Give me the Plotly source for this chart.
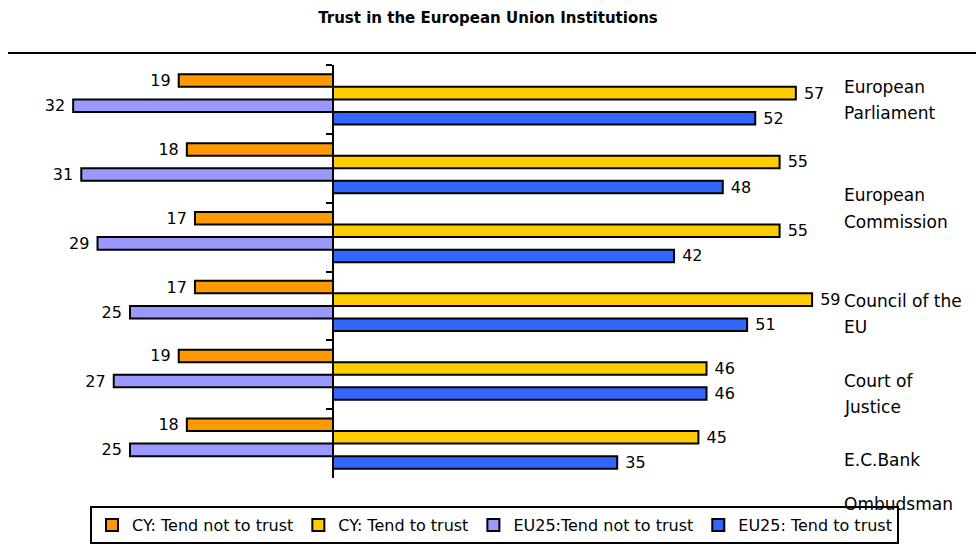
import plotly.graph_objects as go

categories = ["European Parliament", "European Commission", "Council of the EU",
              "Court of Justice", "E.C.Bank", "Ombudsman"]
bar_categories = categories  # six groups of bars, top to bottom

cy_not_trust = [19, 18, 17, 17, 19, 18]
cy_trust = [57, 55, 55, 59, 46, 45]
eu_not_trust = [32, 31, 29, 25, 27, 25]
eu_trust = [52, 48, 42, 51, 46, 35]

series_names = ["CY: Tend not to trust", "CY: Tend to trust",
                "EU25:Tend not to trust", "EU25: Tend to trust"]
colors = ["#FF9900", "#FFCC00", "#9999FF", "#3366FF"]

# label lines for the category names on the right
label_lines = [["European", "Parliament"], ["European", "Commission"],
               ["Council of the", "EU"], ["Court of", "Justice"],
               ["E.C.Bank"], ["Ombudsman"]]
label_y_px = [[87, 113], [195, 222], [301, 327], [381, 407], [460], [504]]

W, H = 976, 546
TOP, BOTTOM = 65, 478
ZERO_X = 333
PX_PER_UNIT = 8.12
x_range = [-ZERO_X / PX_PER_UNIT, (W - ZERO_X) / PX_PER_UNIT]

FONT = "DejaVu Sans, Verdana, sans-serif"

def py(ypx):
    return (BOTTOM - ypx) / (BOTTOM - TOP)

fig = go.Figure()
data = [(cy_not_trust, -1), (cy_trust, 1), (eu_not_trust, -1), (eu_trust, 1)]
for (vals, sign), name, col in zip(data, series_names, colors):
    labels = [(f"{v} " if sign < 0 else f" {v}") for v in vals]
    fig.add_trace(go.Bar(
        y=bar_categories, x=[sign * v for v in vals], orientation="h",
        name=name, marker=dict(color=col, line=dict(color="black", width=2)),
        text=labels, textposition="outside",
        textfont=dict(family=FONT, size=16, color="black"),
        constraintext="none", cliponaxis=False,
    ))

annotations = []
for lines, ys in zip(label_lines, label_y_px):
    for t, ypx in zip(lines, ys):
        annotations.append(dict(
            text=t, xref="paper", yref="paper", x=842 / W, y=py(ypx),
            xanchor="left", yanchor="middle", showarrow=False,
            font=dict(family=FONT, size=17, color="black")))

fig.update_layout(
    width=W, height=H,
    margin=dict(l=0, r=0, t=TOP, b=H - BOTTOM, pad=0),
    paper_bgcolor="white", plot_bgcolor="white",
    barmode="group", bargap=0.27, bargroupgap=0,
    title=dict(text="Trust in the European Union Institutions",
               x=0.5, xanchor="center", y=1 - 18 / H, yanchor="middle",
               font=dict(family=FONT, size=15, color="black", weight="bold")),
    xaxis=dict(range=x_range, showgrid=False, zeroline=False,
               showticklabels=False, showline=False, fixedrange=True),
    yaxis=dict(autorange="reversed", type="category", anchor="free",
               position=ZERO_X / W, showline=True, linecolor="black",
               linewidth=2, ticks="outside", tickson="boundaries",
               ticklen=6, tickwidth=2, tickcolor="black",
               showticklabels=False, showgrid=False, zeroline=False,
               fixedrange=True),
    legend=dict(orientation="h", x=90 / W, xanchor="left", y=py(506),
                yanchor="top", bordercolor="black", borderwidth=2,
                bgcolor="rgba(255,255,255,0)", itemwidth=30,
                font=dict(family=FONT, size=16, color="black"),
                traceorder="normal"),
    annotations=annotations,
    shapes=[dict(type="line", xref="paper", yref="paper",
                 x0=8 / W, x1=1, y0=py(53), y1=py(53),
                 line=dict(color="black", width=2))],
    showlegend=True,
)

fig.write_html("out.html", config={"displayModeBar": False},
               post_script="document.body.style.margin='0';")
